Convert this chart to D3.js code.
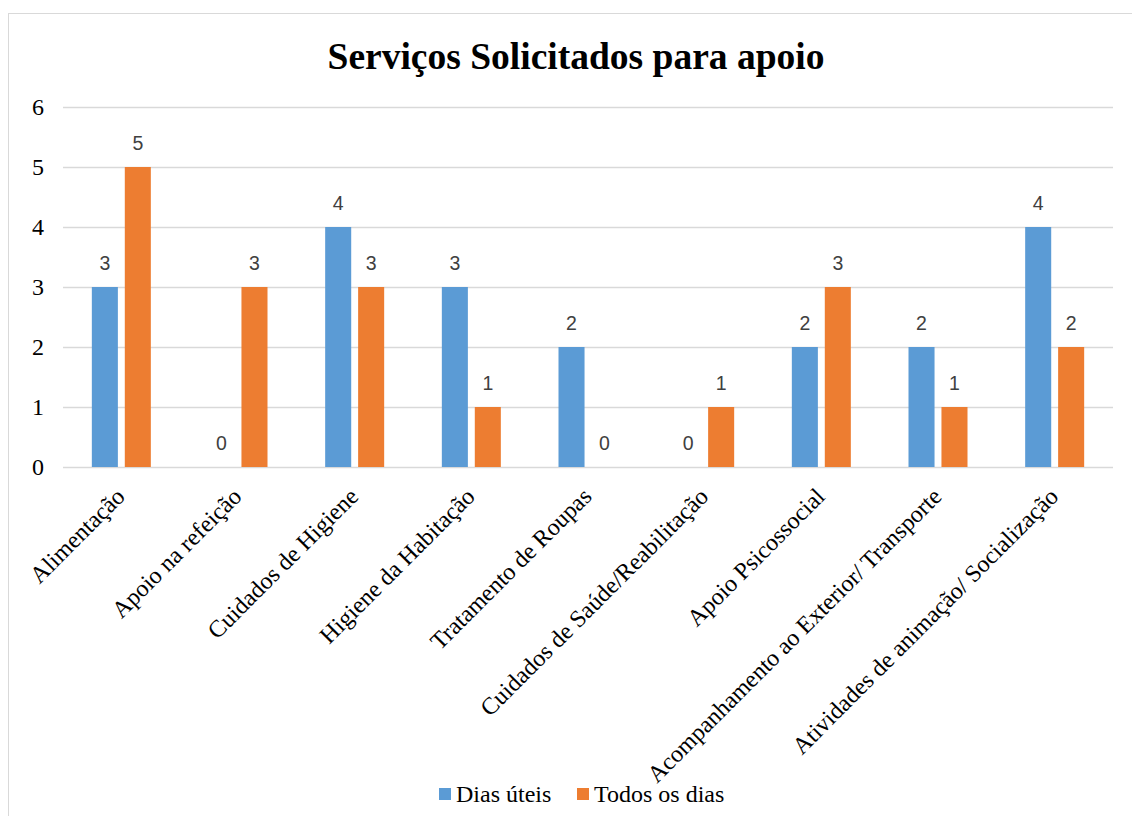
<!DOCTYPE html>
<html>
<head>
<meta charset="utf-8">
<script src="https://cdn.jsdelivr.net/npm/d3@7"></script>
<style>
  body { margin: 0; background: #fff; }
  svg { display: block; }
</style>
</head>
<body>
<svg id="chart"></svg>
<script>
const categories = [
  'Alimentação',
  'Apoio na refeição',
  'Cuidados de Higiene',
  'Higiene da Habitação',
  'Tratamento de Roupas',
  'Cuidados de Saúde/Reabilitação',
  'Apoio Psicossocial',
  'Acompanhamento ao Exterior/ Transporte',
  'Atividades de animação/ Socialização',
]
const seriesNames = ['Dias úteis', 'Todos os dias']
const diasUteis = [3, 0, 4, 3, 2, 0, 2, 2, 4]
const todosDias = [5, 3, 3, 1, 0, 1, 3, 1, 2]
const yTicks = [0, 1, 2, 3, 4, 5, 6]

const colors = ['#5B9BD5', '#ED7D31']
const width = 1132
const height = 816
const plot = { left: 63, right: 1113, top: 107, bottom: 467 }
const serif = '"Liberation Serif", "Times New Roman", serif'

const svg = d3.select('#chart')
  .attr('width', width)
  .attr('height', height)

// chart frame
svg.append('rect')
  .attr('x', 8.5).attr('y', 13.5)
  .attr('width', width + 10).attr('height', height + 10)
  .attr('fill', 'none')
  .attr('stroke', '#d9d9d9')

svg.append('text')
  .attr('x', 576).attr('y', 69)
  .attr('text-anchor', 'middle')
  .style('font-family', serif)
  .style('font-weight', 'bold')
  .style('font-size', '37.5px')
  .text('Serviços Solicitados para apoio')

const x = d3.scaleBand()
  .domain(categories)
  .range([plot.left, plot.right])

const xInner = d3.scaleBand()
  .domain(seriesNames)
  .range([0, 59])
  .paddingInner(0.21)

const y = d3.scaleLinear()
  .domain([0, 6])
  .range([plot.bottom, plot.top])

// gridlines
svg.append('g')
  .selectAll('line')
  .data(yTicks)
  .join('line')
    .attr('x1', plot.left).attr('x2', plot.right)
    .attr('y1', (d) => y(d) + 0.5).attr('y2', (d) => y(d) + 0.5)
    .attr('stroke', '#d9d9d9')
    .attr('stroke-width', 1.3)

// y labels
svg.append('g')
  .selectAll('text')
  .data(yTicks)
  .join('text')
    .attr('x', 44)
    .attr('y', (d) => y(d))
    .attr('dy', '0.33em')
    .attr('text-anchor', 'end')
    .style('font-family', serif)
    .style('font-size', '24px')
    .text((d) => d)

const rows = categories.map((c, i) => ({
  category: c,
  values: [
    { key: seriesNames[0], value: diasUteis[i] },
    { key: seriesNames[1], value: todosDias[i] },
  ],
}))

const groups = svg.append('g')
  .selectAll('g')
  .data(rows)
  .join('g')
    .attr('transform', (d) => `translate(${x(d.category) + x.bandwidth() / 2 - 29.5},0)`)

groups.selectAll('rect')
  .data((d) => d.values)
  .join('rect')
    .attr('x', (d) => xInner(d.key))
    .attr('y', (d) => y(d.value))
    .attr('width', xInner.bandwidth())
    .attr('height', (d) => y(0) - y(d.value))
    .attr('fill', (d, i) => colors[i])

groups.selectAll('text')
  .data((d) => d.values)
  .join('text')
    .attr('x', (d) => xInner(d.key) + xInner.bandwidth() / 2)
    .attr('y', (d) => y(d.value) - 17)
    .attr('text-anchor', 'middle')
    .style('font-family', '"Liberation Sans", Arial, sans-serif')
    .style('font-size', '19.5px')
    .attr('fill', '#404040')
    .text((d) => d.value)

// category labels
svg.append('g')
  .selectAll('text')
  .data(categories)
  .join('text')
    .attr('transform', (d) => `translate(${x(d) + x.bandwidth() / 2 + 5},${plot.bottom + 31}) rotate(-45)`)
    .attr('text-anchor', 'end')
    .style('font-family', serif)
    .style('font-size', '24px')
    .text((d) => d)

// legend
const legendX = [439, 577]
const legend = svg.append('g')
  .selectAll('g')
  .data(seriesNames)
  .join('g')
    .attr('transform', (d, i) => `translate(${legendX[i]},788)`)

legend.append('rect')
  .attr('width', 12).attr('height', 12)
  .attr('fill', (d, i) => colors[i])

legend.append('text')
  .attr('x', 17).attr('y', 14)
  .style('font-family', serif)
  .style('font-size', '24px')
  .text((d) => d)
</script>
</body>
</html>
